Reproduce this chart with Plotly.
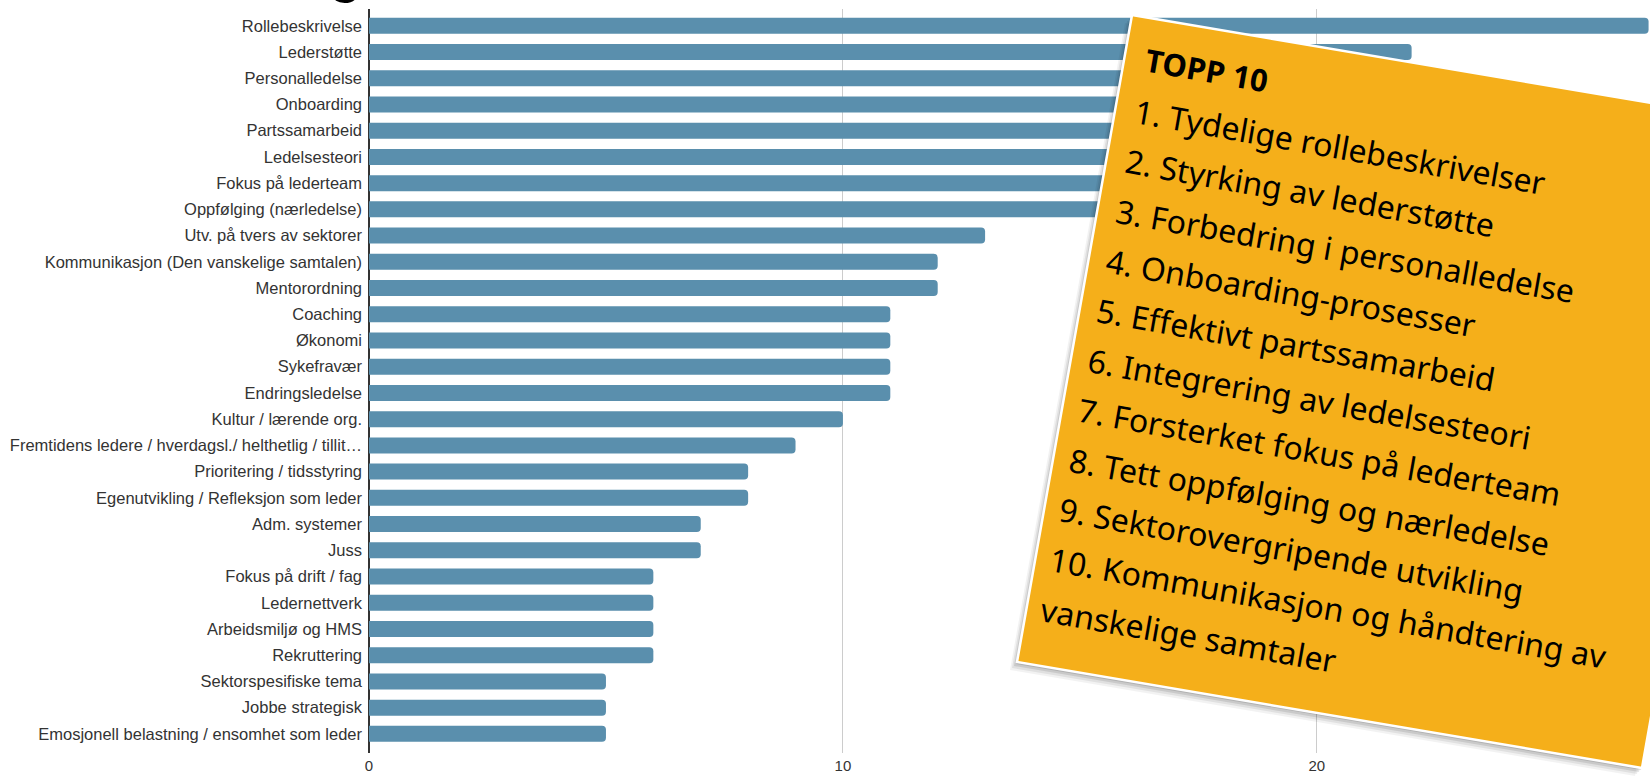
import math
import plotly.graph_objects as go

categories = [
    "Rollebeskrivelse", "Lederstøtte", "Personalledelse", "Onboarding", "Partssamarbeid",
    "Ledelsesteori", "Fokus på lederteam", "Oppfølging (nærledelse)", "Utv. på tvers av sektorer",
    "Kommunikasjon (Den vanskelige samtalen)", "Mentorordning", "Coaching", "Økonomi",
    "Sykefravær", "Endringsledelse", "Kultur / lærende org.",
    "Fremtidens ledere / hverdagsl./ helthetlig / tillit…", "Prioritering / tidsstyring",
    "Egenutvikling / Refleksjon som leder", "Adm. systemer", "Juss", "Fokus på drift / fag",
    "Ledernettverk", "Arbeidsmiljø og HMS", "Rekruttering", "Sektorspesifiske tema",
    "Jobbe strategisk", "Emosjonell belastning / ensomhet som leder",
]
values = [27, 22, 20, 19, 18, 17, 17, 16, 13, 12, 12, 11, 11, 11, 11, 10, 9, 8, 8, 7, 7,
          6, 6, 6, 6, 5, 5, 5]
x_ticks = [0, 10, 20]

box_title = "TOPP 10"
box_lines = [
    "1. Tydelige rollebeskrivelser",
    "2. Styrking av lederstøtte",
    "3. Forbedring i personalledelse",
    "4. Onboarding-prosesser",
    "5. Effektivt partssamarbeid",
    "6. Integrering av ledelsesteori",
    "7. Forsterket fokus på lederteam",
    "8. Tett oppfølging og nærledelse",
    "9. Sektorovergripende utvikling",
    "10. Kommunikasjon og håndtering av",
    "vanskelige samtaler",
]

W, H = 1650, 779
ML, MR, MT, MB = 369, 0, 9, 26
PW, PH = W - ML - MR, H - MT - MB


def px(x):
    return (x - ML) / PW


def py(y):
    return (H - MB - y) / PH


fig = go.Figure(go.Bar(
    x=values, y=categories, orientation="h",
    marker=dict(color="#5A8FAD", line=dict(width=0)),
    width=0.61, hoverinfo="x+y",
))

label_font = "Liberation Sans, Arial, sans-serif"

fig.update_layout(
    width=W, height=H,
    margin=dict(l=ML, r=MR, t=MT, b=MB, pad=0),
    paper_bgcolor="white", plot_bgcolor="white",
    showlegend=False,
    barcornerradius=4,
    xaxis=dict(
        range=[0, 27.03], tickvals=x_ticks, ticks="", showgrid=True, automargin=False,
        gridcolor="#cccccc", gridwidth=1, zeroline=True, zerolinecolor="#333333",
        zerolinewidth=2, showline=False, ticklabelstandoff=2,
        tickfont=dict(family=label_font, size=15, color="#333333"),
    ),
    yaxis=dict(
        type="category", categoryorder="array", categoryarray=categories, automargin=False,
        range=[27.73, -0.64], ticks="", showgrid=False, zeroline=False, showline=False,
        ticklabelstandoff=6,
        tickfont=dict(family=label_font, size=16.5, color="#333333"),
    ),
)

# Rotated orange box (pixel corners converted to paper coords)
TL, BL, BR = (1132, 15), (1017, 662), (1642, 768)
TR = (TL[0] + BR[0] - BL[0], TL[1] + BR[1] - BL[1])


def poly(pts, dx=0, dy=0):
    s = ""
    for i, (x, y) in enumerate(pts):
        s += ("M" if i == 0 else "L") + f" {px(x + dx):.5f},{py(y + dy):.5f} "
    return s + "Z"


corners = [TL, TR, BR, BL]
for dx, dy, a in [(-7, 8, 0.05), (-5, 6, 0.07), (-3, 4, 0.10), (-1, 2, 0.12)]:
    fig.add_shape(type="path", path=poly(corners, dx, dy), xref="paper", yref="paper",
                  fillcolor=f"rgba(0,0,0,{a})", line=dict(width=0), layer="above")
fig.add_shape(type="path", path=poly(corners), xref="paper", yref="paper",
              fillcolor="#F5AF1A", line=dict(color="white", width=2.5), layer="above")

theta = 10
F = 32
FT = 31
s = math.sin(math.radians(theta))
box_font = "Noto Sans, Open Sans, sans-serif"


def anchor(gx, gy, f):
    hbox = 1.362 * f + 2
    return px(gx - hbox * s), py(gy - (0.355 * f + 1) - 7)


ax, ay = anchor(1148, 55, FT)
fig.add_annotation(text=f"<b>{box_title}</b>", x=ax, y=ay,
                   xref="paper", yref="paper", xanchor="left", yanchor="top",
                   textangle=theta, showarrow=False,
                   font=dict(family=box_font, size=FT, color="black"))

pitch_x, pitch_y = 9.4, 49.8
for i, line in enumerate(box_lines):
    ax, ay = anchor(1137 - i * pitch_x, 106 + i * pitch_y, F)
    fig.add_annotation(text=line, x=ax, y=ay,
                       xref="paper", yref="paper", xanchor="left", yanchor="top",
                       textangle=theta, showarrow=False,
                       font=dict(family=box_font, size=F, color="black"))

# bottom of the cropped headline glyph at the very top
fig.add_annotation(text="g", x=px(345), y=py(5), xref="paper", yref="paper",
                   xanchor="center", yanchor="bottom", showarrow=False,
                   font=dict(family="Liberation Sans, Arial, sans-serif", size=62, color="black"))

fig.write_html("out.html", config={"displayModeBar": False},
               post_script="document.body.style.margin='0';")
